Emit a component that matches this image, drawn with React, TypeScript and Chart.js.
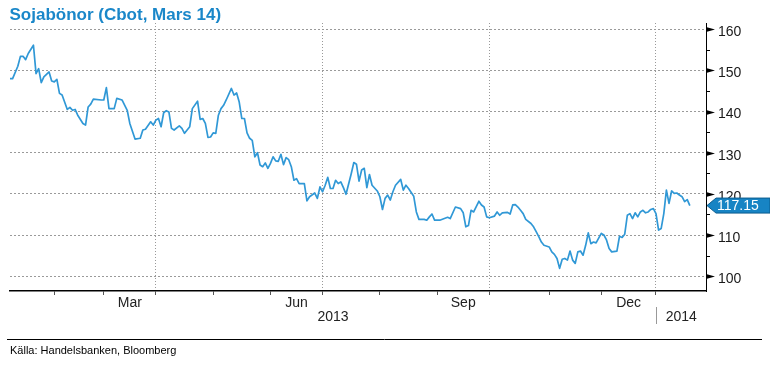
import React, { useEffect, useRef } from "react";
import { Chart, registerables } from "chart.js";

Chart.register(...registerables);

// ---- data (trading-day index since first observation, price in USc/bu) ----
const dayIndex = [
  0, 1, 3, 4, 5, 6, 7, 9, 10, 11, 12, 13, 15, 16, 17, 18, 19, 20, 22, 23, 24, 25, 26, 28, 29, 30,
  31, 32, 35, 36, 37, 38, 40, 41, 43, 45, 46, 48, 50, 51, 52, 54, 55, 56, 57, 58, 59, 60, 61, 62,
  63, 65, 66, 67, 69, 70, 72, 73, 74, 75, 76, 77, 78, 79, 80, 81, 82, 83, 85, 86, 87, 88, 89, 90,
  91, 92, 93, 94, 95, 96, 97, 98, 99, 100, 101, 102, 103, 104, 105, 106, 107, 108, 109, 110, 111,
  113, 114, 115, 117, 118, 119, 120, 121, 122, 123, 124, 125, 126, 127, 128, 129, 131, 132, 133,
  134, 135, 136, 137, 138, 139, 141, 142, 143, 144, 145, 146, 147, 148, 150, 151, 152, 153, 155,
  156, 157, 159, 160, 161, 162, 163, 165, 168, 169, 171, 173, 174, 175, 176, 177, 178, 180, 181,
  182, 183, 184, 186, 187, 188, 189, 191, 192, 193, 194, 195, 196, 197, 198, 200, 201, 202, 203,
  204, 205, 207, 208, 209, 210, 211, 212, 213, 214, 215, 216, 217, 218, 219, 220, 221, 222, 223,
  224, 225, 227, 228, 229, 230, 231, 233, 234, 235, 236, 237, 238, 239, 240, 241, 242, 243, 244,
  245, 246, 247, 248, 249, 250, 251, 252, 253, 254, 255, 256, 257, 258, 259, 260, 261,
];

const price = [
  148.0, 148.0, 151.0, 153.4, 153.4, 152.6, 154.1, 156.1, 149.2, 150.4, 147.0, 148.4, 149.6, 147.4,
  147.2, 147.8, 144.4, 144.0, 140.5, 141.0, 140.3, 140.5, 139.1, 137.1, 136.7, 141.1, 141.8, 143.0,
  142.8, 142.8, 145.8, 140.7, 140.7, 143.2, 142.8, 140.3, 137.1, 133.3, 133.5, 135.5, 135.7, 137.5,
  136.7, 137.9, 138.3, 136.3, 139.7, 140.2, 139.9, 135.9, 135.5, 136.5, 135.9, 134.7, 136.3, 140.7,
  142.5, 138.1, 138.3, 137.1, 133.7, 133.8, 134.8, 134.7, 139.1, 140.7, 141.5, 142.8, 145.6, 144.0,
  144.5, 142.3, 138.3, 138.3, 134.8, 133.5, 133.0, 129.0, 130.0, 127.0, 126.6, 127.5, 126.2, 127.4,
  129.0, 128.0, 127.9, 129.6, 127.1, 128.8, 128.3, 126.6, 123.3, 123.7, 122.5, 122.5, 118.3, 119.3,
  120.2, 118.9, 121.7, 120.5, 122.1, 124.0, 121.3, 121.3, 123.3, 122.5, 122.9, 121.5, 119.9, 124.9,
  127.6, 127.2, 123.1, 125.8, 126.2, 121.5, 124.7, 122.1, 120.7, 119.3, 116.2, 118.9, 119.7, 118.5,
  120.5, 122.1, 123.5, 120.9, 122.1, 121.3, 119.4, 115.6, 113.8, 113.8, 113.6, 114.4, 115.1, 113.6,
  113.6, 114.3, 114.0, 116.8, 116.4, 115.4, 112.0, 112.3, 116.0, 115.6, 118.2, 117.3, 116.8, 114.4,
  114.2, 114.6, 115.6, 114.8, 115.4, 115.5, 115.1, 117.3, 117.4, 116.8, 116.0, 115.2, 113.8, 112.8,
  112.0, 110.8, 109.6, 108.3, 107.5, 107.1, 105.9, 105.3, 104.3, 101.9, 104.1, 104.3, 103.9, 106.1,
  103.9, 103.1, 105.9, 106.1, 105.1, 107.5, 110.5, 107.9, 108.3, 108.1, 110.4, 110.0, 108.8, 106.7,
  105.9, 106.1, 109.7, 109.4, 110.2, 114.8, 115.2, 114.0, 115.4, 114.4, 115.6, 116.0, 115.4, 115.6,
  116.2, 116.4, 115.2, 111.2, 111.6, 115.2, 120.9, 117.7, 120.7, 120.1, 120.2, 119.7, 119.3, 118.1,
  118.6, 117.15,
];

// month boundaries (trading-day index): Feb 1 ... Jan 1 2014
const monthStarts = [17, 36, 56, 78, 100, 120, 142, 164, 184, 207, 227, 248];
const quarterStarts = [56, 120, 184, 248];
const monthLabels = ["Mar", "Jun", "Sep", "Dec"];
const monthLabelPos = [46, 110, 174, 237.5];
const yearLabels = ["2013", "2014"];
const yearLabelPos = [124, 257.7];
const yearBreak = 248;
const yTickValues = [100, 105, 110, 115, 120, 125, 130, 135, 140, 145, 150, 155, 160];

const TITLE = "Sojabönor (Cbot, Mars 14)";
const SOURCE = "Källa: Handelsbanken, Bloomberg";
const FONT = '"Liberation Sans", Arial, Helvetica, sans-serif';

const decor = {
  id: "decor",
  afterDraw(chart: any) {
    const { ctx, chartArea } = chart;
    const x = chart.scales.x;
    const y = chart.scales.y;
    const W = chart.width;
    ctx.save();

    // title
    ctx.font = `bold 17px ${FONT}`;
    ctx.fillStyle = "#1a87c9";
    ctx.textAlign = "left";
    ctx.textBaseline = "alphabetic";
    ctx.fillText(TITLE, 9.5, 20);

    // month labels and years
    ctx.font = `14px ${FONT}`;
    ctx.fillStyle = "#222";
    ctx.textAlign = "center";
    monthLabels.forEach((l, i) => ctx.fillText(l, x.getPixelForValue(monthLabelPos[i]), 306.5));
    yearLabels.forEach((l, i) => ctx.fillText(l, x.getPixelForValue(yearLabelPos[i]), 320.5));

    // year separator
    const sx = Math.round(x.getPixelForValue(yearBreak)) + 0.5;
    ctx.strokeStyle = "#999";
    ctx.lineWidth = 1;
    ctx.setLineDash([]);
    ctx.beginPath();
    ctx.moveTo(sx, 307);
    ctx.lineTo(sx, 324);
    ctx.stroke();

    // right axis tick marks
    const ax = chartArea.right;
    ctx.fillStyle = "#000";
    ctx.strokeStyle = "#000";
    yTickValues.forEach((v) => {
      const py = Math.round(y.getPixelForValue(v)) + 0.5;
      if (v % 10 === 0) {
        ctx.beginPath();
        ctx.moveTo(ax, py - 2.5);
        ctx.lineTo(ax + 9, py);
        ctx.lineTo(ax, py + 2.5);
        ctx.closePath();
        ctx.fill();
      } else {
        ctx.beginPath();
        ctx.moveTo(ax, py);
        ctx.lineTo(ax + 4, py);
        ctx.stroke();
      }
    });

    // last value badge
    const last = price[price.length - 1];
    const cy = y.getPixelForValue(last);
    const L = ax + 1;
    ctx.beginPath();
    ctx.moveTo(L, cy);
    ctx.lineTo(L + 9, cy - 7.5);
    ctx.lineTo(W, cy - 7.5);
    ctx.lineTo(W, cy + 7.5);
    ctx.lineTo(L + 9, cy + 7.5);
    ctx.closePath();
    ctx.fillStyle = "#1784c4";
    ctx.fill();
    ctx.strokeStyle = "#0b5d8f";
    ctx.lineWidth = 1;
    ctx.stroke();
    ctx.font = `14px ${FONT}`;
    ctx.fillStyle = "#fff";
    ctx.textAlign = "left";
    ctx.textBaseline = "middle";
    ctx.fillText(last.toFixed(2), L + 10, cy + 1);

    // footer rule and source
    ctx.strokeStyle = "#000";
    ctx.lineWidth = 1;
    ctx.beginPath();
    ctx.moveTo(7, 339.5);
    ctx.lineTo(762, 339.5);
    ctx.stroke();
    ctx.font = `11px ${FONT}`;
    ctx.fillStyle = "#000";
    ctx.textAlign = "left";
    ctx.textBaseline = "alphabetic";
    ctx.fillText(SOURCE, 10, 353.5);

    ctx.restore();
  },
};

export default function App() {
  const ref = useRef<HTMLCanvasElement | null>(null);

  useEffect(() => {
    document.body.style.margin = "0";
    const canvas = ref.current;
    if (!canvas) return;
    const chart = new Chart(canvas, {
      type: "line",
      data: {
        datasets: [
          {
            data: dayIndex.map((d, i) => ({ x: d, y: price[i] })),
            borderColor: "#3098d6",
            borderWidth: 1.7,
            pointRadius: 0,
            tension: 0,
            fill: false,
            borderJoinStyle: "round",
          },
        ],
      },
      options: {
        animation: false,
        responsive: false,
        maintainAspectRatio: false,
        devicePixelRatio: 1,
        layout: { padding: { left: 10, top: 23, right: 0, bottom: 0 } },
        plugins: { legend: { display: false }, tooltip: { enabled: false }, title: { display: false } },
        scales: {
          x: {
            type: "linear",
            min: 0,
            max: 267.2,
            afterBuildTicks: (s: any) => {
              s.ticks = monthStarts.map((v) => ({ value: v }));
            },
            afterFit: (s: any) => {
              s.height = 75;
            },
            ticks: { display: false },
            grid: {
              color: (c: any) => (c.tick && quarterStarts.includes(c.tick.value) ? "#999999" : "rgba(0,0,0,0)"),
              lineWidth: 1,
              drawTicks: true,
              tickLength: 4,
              tickWidth: 1,
              tickColor: "#555",
              tickBorderDash: [],
            },
            border: { display: true, color: "#000", width: 1.5, dash: [1, 2] },
          },
          y: {
            position: "right",
            min: 96.4,
            max: 161.5,
            afterBuildTicks: (s: any) => {
              s.ticks = yTickValues.map((v) => ({ value: v }));
            },
            afterFit: (s: any) => {
              s.width = 64;
            },
            grid: {
              color: (c: any) => (c.tick && c.tick.value % 10 === 0 ? "#9a9a9a" : "rgba(0,0,0,0)"),
              lineWidth: 1,
              drawTicks: false,
            },
            border: { display: true, color: "#000", width: 1, dash: [2, 2] },
            ticks: {
              callback: (v: any) => (Number(v) % 10 === 0 ? String(v) : ""),
              padding: 12,
              labelOffset: 3,
              color: "#1a1a1a",
              font: { size: 14, family: FONT },
            },
          },
        },
      },
      plugins: [decor],
    } as any);
    return () => chart.destroy();
  }, []);

  return <canvas ref={ref} width={770} height={366} style={{ display: "block" }} />;
}
